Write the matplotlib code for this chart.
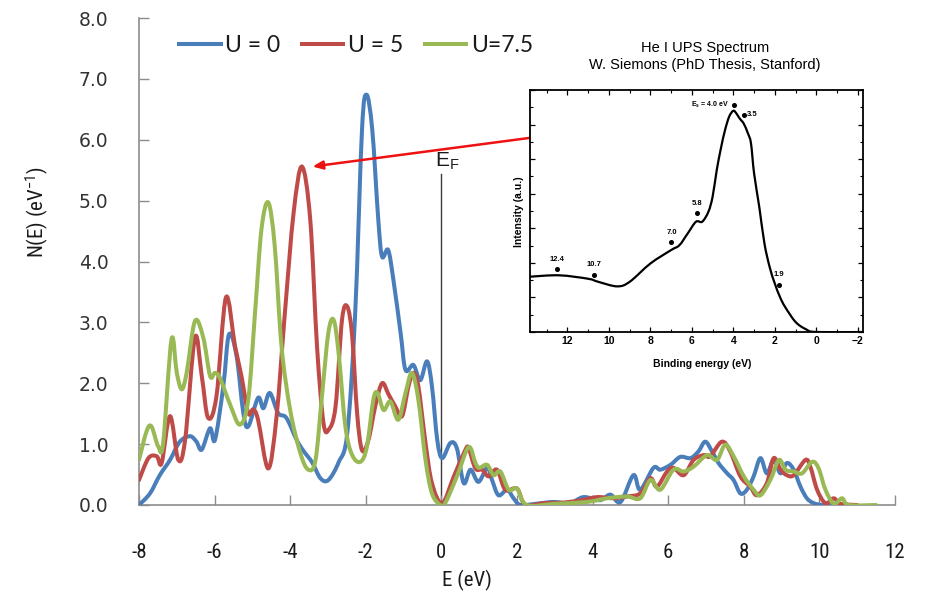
import numpy as np
import matplotlib
matplotlib.use('Agg')
import matplotlib.pyplot as plt
from matplotlib.ticker import MultipleLocator
from matplotlib.path import Path
from matplotlib.patches import PathPatch
from matplotlib.lines import Line2D

plt.rcParams['mathtext.default'] = 'regular'

# ---------------- data (main DOS plot) ----------------
e_u0 = [-8.0,-7.71,-7.45,-7.18,-6.92,-6.65,-6.48,-6.34,-6.12,-5.99,-5.77,-5.62,-5.42,-5.24,-5.11,-4.85,-4.71,-4.54,-4.32,-4.10,
        -3.83,-3.65,-3.42,-3.2,-2.99,-2.72,-2.49,-2.28,-2.10,-1.98,-1.83,-1.67,-1.57,-1.41,-1.27,-1.08,-0.95,-0.74,-0.56,-0.38,
        -0.25,-0.11,0.02,0.24,0.41,0.59,0.77,0.98,1.21,1.34,1.51,1.74,1.91,2.09,2.5,2.97,3.4,3.76,4.2,4.47,4.74,5.08,5.26,5.61,
        5.79,6.06,6.32,6.59,6.80,6.98,7.16,7.33,7.56,7.73,7.91,8.08,8.26,8.44,8.61,8.79,8.97,9.14,9.32,9.50,9.67,9.85,10.1,10.5]
n_u0 = [0.0,0.19,0.49,0.74,1.04,1.13,1.04,0.91,1.26,1.07,1.95,2.80,2.45,1.51,1.29,1.76,1.59,1.84,1.51,1.43,
        1.07,0.89,0.70,0.44,0.41,0.70,1.18,3.16,6.17,6.74,6.17,4.69,4.08,4.19,3.70,2.83,2.22,2.30,2.05,2.36,
        1.95,1.07,0.77,1.02,0.93,0.36,0.58,0.38,0.61,0.41,0.16,0.25,0.11,0.0,0.02,0.05,0.03,0.13,0.08,0.17,0.05,0.49,0.25,0.61,
        0.58,0.66,0.79,0.77,0.88,1.04,0.88,0.69,0.52,0.41,0.19,0.25,0.47,0.77,0.52,0.74,0.52,0.69,0.58,0.30,0.11,0.03,0.0,0.0]

e_u5 = [-8.0,-7.75,-7.53,-7.40,-7.18,-6.96,-6.78,-6.52,-6.34,-6.17,-5.95,-5.70,-5.46,-5.29,-5.11,-4.98,-4.85,-4.58,-4.36,-4.14,
        -3.91,-3.69,-3.47,-3.29,-3.12,-2.98,-2.80,-2.63,-2.49,-2.36,-2.23,-2.10,-1.93,-1.75,-1.57,-1.40,-1.22,-1.04,-0.87,-0.74,
        -0.61,-0.42,-0.25,0.02,0.33,0.63,0.72,0.90,1.08,1.25,1.47,1.69,2.0,2.22,2.7,3.23,3.7,4.13,4.56,4.91,5.26,5.53,5.70,5.97,
        6.14,6.41,6.67,6.94,7.11,7.42,7.64,7.91,8.17,8.35,8.61,8.79,8.97,9.14,9.32,9.63,9.76,9.94,10.16,10.38,10.56,11.0]
n_u5 = [0.41,0.77,0.80,0.69,1.46,0.74,1.07,2.75,2.12,1.43,1.79,3.41,2.61,2.12,1.51,1.57,1.40,0.60,1.46,3.16,
        4.80,5.56,4.69,2.60,1.35,1.24,1.62,3.04,3.26,2.77,1.51,0.90,1.07,1.62,2.0,1.82,1.62,1.46,1.95,2.17,
        1.95,1.02,0.36,0.03,0.47,0.90,0.93,0.60,0.58,0.47,0.58,0.25,0.27,0.0,0.03,0.04,0.08,0.13,0.11,0.14,0.19,0.44,0.30,0.55,
        0.61,0.49,0.74,0.82,0.80,1.04,0.88,0.47,0.30,0.16,0.36,0.77,0.58,0.49,0.49,0.74,0.63,0.25,0.03,0.11,0.02,0.0]

e_u75 = [-8.0,-7.80,-7.67,-7.49,-7.36,-7.14,-7.0,-6.87,-6.74,-6.52,-6.30,-6.12,-5.99,-5.86,-5.59,-5.33,-5.11,-4.93,-4.76,-4.58,
         -4.41,-4.23,-4.0,-3.73,-3.52,-3.33,-3.16,-2.99,-2.85,-2.72,-2.54,-2.36,-2.14,-1.97,-1.80,-1.69,-1.53,-1.35,-1.14,-0.95,
         -0.78,-0.61,-0.42,-0.25,-0.03,0.1,0.41,0.72,0.90,1.0,1.21,1.38,1.56,1.78,2.0,2.26,3.0,3.85,4.38,4.91,5.26,5.53,5.79,6.14,
         6.41,6.67,7.03,7.29,7.51,7.73,8.0,8.26,8.44,8.70,8.93,9.10,9.32,9.54,9.81,9.98,10.16,10.38,10.6,10.78,11.5]
n_u75 = [0.74,1.21,1.29,0.96,1.02,2.72,2.17,1.90,2.17,3.02,2.75,2.12,2.17,2.09,1.65,1.32,1.73,3.16,4.53,4.97,
         4.26,2.61,1.56,0.85,0.58,0.74,1.79,2.83,3.04,2.50,1.29,0.82,0.71,0.96,1.73,1.84,1.56,1.70,1.40,1.84,
         2.17,1.73,0.74,0.19,0.0,0.03,0.47,0.95,0.69,0.61,0.66,0.49,0.55,0.25,0.27,0.0,0.02,0.05,0.11,0.14,0.11,0.41,0.25,0.58,
         0.55,0.63,0.82,0.74,0.99,0.80,0.47,0.25,0.16,0.41,0.74,0.58,0.55,0.52,0.71,0.60,0.25,0.02,0.11,0.0,0.0]

series_labels = ['U = 0', 'U = 5', 'U=7.5']
series_colors = ['#4A7EBB', '#BE4B48', '#98B954']
x_ticks = [-8, -6, -4, -2, 0, 2, 4, 6, 8, 10, 12]
y_ticks = [0.0, 1.0, 2.0, 3.0, 4.0, 5.0, 6.0, 7.0, 8.0]

# ---------------- data (inset UPS spectrum) ----------------
ups_be = [13.8,12.4,11.0,10.5,9.6,9.0,8.0,7.0,6.6,6.2,5.8,5.5,5.2,5.0,4.8,4.6,4.4,4.2,4.0,3.85,3.7,3.5,3.3,3.15,3.0,2.75,
          2.5,2.25,2.0,1.75,1.5,1.0,0.5,0.0,-2.25]
ups_int = [1.60,1.64,1.54,1.45,1.32,1.45,1.98,2.37,2.51,2.85,3.19,3.19,3.48,3.91,4.68,5.31,5.84,6.23,6.40,6.32,6.18,6.03,5.75,
           5.46,4.59,3.62,2.56,1.88,1.40,1.01,0.72,0.29,0.08,0.0,0.0]
mark_be = [12.48, 10.71, 6.98, 5.75, 3.95, 3.47, 1.81]
mark_int = [1.81, 1.66, 2.59, 3.43, 6.57, 6.28, 1.35]
mark_txt = ['12.4', '10.7', '7.0', '5.8', 'E$_s$ = 4.0 eV', '3.5', '1.9']

NARROW = ['Liberation Sans Narrow', 'Roboto Condensed', 'DejaVu Sans']


def smooth_path(xs, ys):
    """Excel-style smoothed line: Bezier path through the data points."""
    P = np.column_stack([xs, ys]).astype(float)
    n = len(P)
    verts = [P[0]]
    codes = [Path.MOVETO]
    for i in range(n - 1):
        p0 = P[i - 1] if i > 0 else P[i]
        p1, p2 = P[i], P[i + 1]
        p3 = P[i + 2] if i + 2 < n else P[i + 1]
        verts += [p1 + (p2 - p0) / 6.0, p2 - (p3 - p1) / 6.0, p2]
        codes += [Path.CURVE4] * 3
    return Path(np.array(verts), codes)


W, H = 931, 613
fig = plt.figure(figsize=(W / 100, H / 100), dpi=100)

# ---------------- main axes ----------------
ax = fig.add_axes([139 / W, 1 - 505 / H, 756 / W, 487 / H])
ax.plot([0, 0], [0, 5.43], color='#3a3a3a', lw=1.0, zorder=1)
handles = []
for xs, ys, lab, col in zip([e_u0, e_u5, e_u75], [n_u0, n_u5, n_u75], series_labels, series_colors):
    ax.add_patch(PathPatch(smooth_path(xs, ys), facecolor='none', edgecolor=col, lw=2.9,
                           joinstyle='round', capstyle='round', zorder=3))
    handles.append(Line2D([], [], color=col, lw=2.9, label=lab))

ax.set_xlim(-8, 12)
ax.set_ylim(0, 8)
for s in ['top', 'right']:
    ax.spines[s].set_visible(False)
for s in ['left', 'bottom']:
    ax.spines[s].set_color('#8c8c8c')
    ax.spines[s].set_linewidth(1.2)
ax.set_xticks(x_ticks)
ax.set_xticklabels([str(v) for v in x_ticks], family=NARROW, stretch='condensed', fontsize=15,
                   color='#1a1a1a')
ax.set_yticks(y_ticks)
ax.set_yticklabels([f'{v:.1f}' for v in y_ticks], family='DejaVu Sans', fontsize=13.5, color='#333333')
ax.tick_params(direction='in', length=7, width=1.0, color='#8c8c8c')
ax.tick_params(axis='y', pad=22)
ax.tick_params(axis='x', pad=27)

fig.text(37 / W, 1 - 212 / H, 'N(E) (eV$^{-1}$)', rotation=90, ha='center', va='center',
         family=NARROW, stretch='condensed', fontsize=15, color='#1a1a1a')
fig.text(467 / W, 1 - 580 / H, 'E (eV)', ha='center', va='center',
         family=NARROW, stretch='condensed', fontsize=15, color='#1a1a1a')

ax.text(-0.16, 5.56, 'E$_F$', ha='left', va='baseline', family='Liberation Sans', fontsize=15, color='#1a1a1a')

leg = ax.legend(handles=handles, loc='center left', bbox_to_anchor=(168 / W, 1 - 46 / H),
                bbox_transform=fig.transFigure,
                ncol=3, frameon=False, borderpad=0, handlelength=1.8, handletextpad=0.2, columnspacing=0.95,
                prop={'family': 'Lato', 'size': 16.5})
for t in leg.get_texts():
    t.set_color('#1a1a1a')

ax.annotate('', xy=(-3.41, 5.56), xytext=(7.46, 6.45), xycoords='data', textcoords='data',
            arrowprops=dict(arrowstyle='-|>,head_length=0.6,head_width=0.25', color='#ee1111', lw=1.8,
                            shrinkA=0, shrinkB=0), zorder=6)

# ---------------- inset ----------------
ai = fig.add_axes([530 / W, 1 - 332 / H, 333 / W, 242 / H])
ai.add_patch(PathPatch(smooth_path(ups_be, ups_int), facecolor='none', edgecolor='black', lw=1.6,
                       joinstyle='round'))
ai.plot(mark_be, mark_int, 'o', color='black', ms=2.6, ls='none')
for bx_, by_, t in zip(mark_be, mark_int, mark_txt):
    if t.startswith('E'):
        ai.text(bx_ + 0.25, by_, t, ha='right', va='center', fontsize=5, weight='bold', family='Liberation Sans')
    elif t == '3.5':
        ai.text(bx_ - 0.1, by_, t, ha='left', va='center', fontsize=5.5, weight='bold', family='Liberation Sans')
    else:
        ai.text(bx_, by_ + 0.2, t, ha='center', va='bottom', fontsize=5.5, weight='bold', family='Liberation Sans')
ai.set_xlim(13.8, -2.25)
ai.set_ylim(0, 7)
ai.xaxis.set_major_locator(MultipleLocator(2))
ai.xaxis.set_minor_locator(MultipleLocator(1))
ai.yaxis.set_major_locator(MultipleLocator(1))
ai.yaxis.set_minor_locator(MultipleLocator(0.5))
ai.tick_params(which='both', direction='in', top=True, right=True, color='black')
ai.tick_params(which='major', length=3.5, width=0.9)
ai.tick_params(which='minor', length=2, width=0.8)
ai.tick_params(axis='y', labelleft=False)
ai.tick_params(axis='x', labelsize=7.5, pad=3)
for lab in ai.get_xticklabels():
    lab.set_fontweight('bold')
    lab.set_family('Liberation Sans')
for s in ai.spines.values():
    s.set_linewidth(1.3)
fig.text(702 / W, 1 - 364 / H, 'Binding energy (eV)', ha='center', va='center', fontsize=7.5, weight='bold',
         family='Liberation Sans')
fig.text(519 / W, 1 - 212 / H, 'Intensity (a.u.)', rotation=90, ha='center', va='center', fontsize=7.5,
         weight='bold', family='Liberation Sans')
fig.text(705 / W, 1 - 48 / H, 'He I UPS Spectrum', ha='center', va='center', fontsize=10.5, family='Liberation Sans')
fig.text(705 / W, 1 - 65 / H, 'W. Siemons (PhD Thesis, Stanford)', ha='center', va='center', fontsize=10.5,
         family='Liberation Sans')

fig.savefig('out.png', dpi=100)
